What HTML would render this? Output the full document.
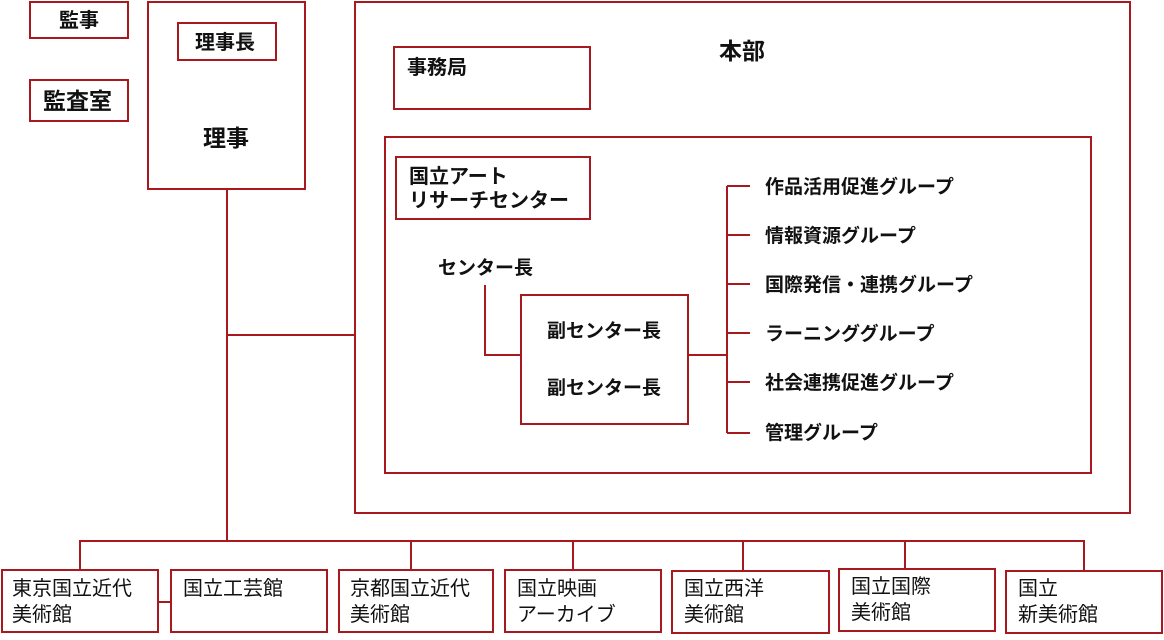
<!DOCTYPE html>
<html><head><meta charset="utf-8"><style>
html,body{margin:0;padding:0;background:#fff;width:1164px;height:640px;overflow:hidden}
svg text{font-family:"Liberation Sans","Noto Sans CJK JP",sans-serif;fill:#111}
.b{font-weight:bold}
</style></head><body>
<svg width="1164" height="640" viewBox="0 0 1164 640" xmlns="http://www.w3.org/2000/svg">
<g fill="none" stroke="#a8191f" stroke-width="2">
<rect x="30" y="2" width="98" height="36"/>
<rect x="30" y="80" width="98" height="41"/>
<rect x="148" y="2" width="157" height="187"/>
<rect x="178" y="23" width="98" height="37"/>
<rect x="355" y="2" width="775" height="511"/>
<rect x="394" y="47" width="196" height="62"/>
<rect x="385" y="137" width="706" height="336"/>
<rect x="396" y="157" width="194" height="62"/>
<rect x="521" y="295" width="167" height="129"/>
<polyline points="485,285 485,355 521,355"/>
<line x1="688" y1="355" x2="727" y2="355"/>
<line x1="727" y1="186" x2="727" y2="433"/>
<line x1="727" y1="186" x2="750" y2="186"/>
<line x1="727" y1="235" x2="750" y2="235"/>
<line x1="727" y1="284" x2="750" y2="284"/>
<line x1="727" y1="333" x2="750" y2="333"/>
<line x1="727" y1="382" x2="750" y2="382"/>
<line x1="727" y1="433" x2="750" y2="433"/>
<line x1="227" y1="189" x2="227" y2="541"/>
<line x1="227" y1="335" x2="355" y2="335"/>
<line x1="79" y1="541" x2="1085" y2="541"/>
<line x1="80" y1="540" x2="80" y2="570"/>
<line x1="411" y1="540" x2="411" y2="570"/>
<line x1="573" y1="540" x2="573" y2="570"/>
<line x1="743" y1="540" x2="743" y2="570"/>
<line x1="905" y1="540" x2="905" y2="569"/>
<line x1="1084" y1="540" x2="1084" y2="570"/>
<line x1="158" y1="602" x2="171" y2="602"/>
<rect x="2" y="570" width="156" height="62"/>
<rect x="171" y="570" width="156" height="62"/>
<rect x="339" y="570" width="154" height="62"/>
<rect x="505" y="570" width="156" height="62"/>
<rect x="672" y="571" width="157" height="62"/>
<rect x="839" y="569" width="156" height="62"/>
<rect x="1006" y="571" width="156" height="62"/>
</g>
<g font-size="19">
<text class="b" x="59" y="27" font-size="20">監事</text>
<text class="b" x="43" y="109" font-size="23">監査室</text>
<text class="b" x="195" y="49" font-size="20">理事長</text>
<text class="b" x="203" y="146" font-size="23">理事</text>
<text class="b" x="719" y="59" font-size="23">本部</text>
<text class="b" x="407" y="74" font-size="20">事務局</text>
<text class="b" x="409" y="183" font-size="20">国立アート</text>
<text class="b" x="409" y="207" font-size="20">リサーチセンター</text>
<text class="b" x="438" y="274">センター長</text>
<text class="b" x="547" y="337">副センター長</text>
<text class="b" x="547" y="394">副センター長</text>
<text class="b" x="765" y="193">作品活用促進グループ</text>
<text class="b" x="765" y="242">情報資源グループ</text>
<text class="b" x="765" y="291">国際発信・連携グループ</text>
<text class="b" x="765" y="340">ラーニンググループ</text>
<text class="b" x="765" y="389">社会連携促進グループ</text>
<text class="b" x="765" y="439">管理グループ</text>
</g>
<g font-size="20">
<text x="12" y="595">東京国立近代</text><text x="12" y="621">美術館</text>
<text x="183" y="595">国立工芸館</text>
<text x="350" y="595">京都国立近代</text><text x="350" y="621">美術館</text>
<text x="517" y="595">国立映画</text><text x="517" y="621">アーカイブ</text>
<text x="684" y="595">国立西洋</text><text x="684" y="621">美術館</text>
<text x="851" y="593">国立国際</text><text x="851" y="619">美術館</text>
<text x="1018" y="595">国立</text><text x="1018" y="621">新美術館</text>
</g>
</svg>
</body></html>
